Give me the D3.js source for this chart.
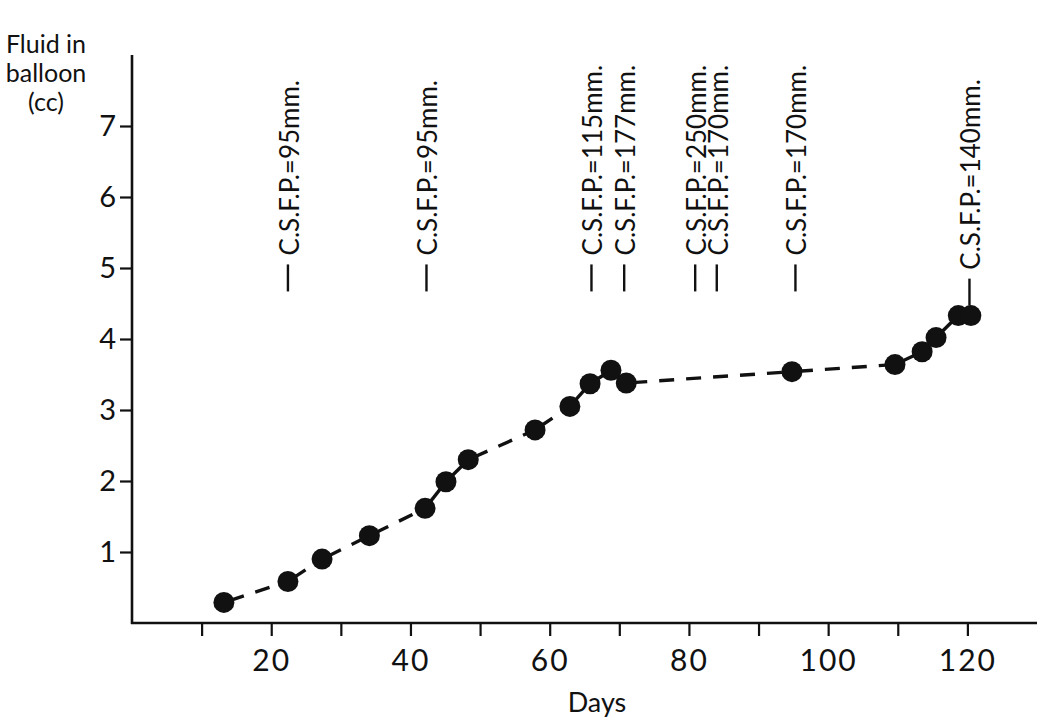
<!DOCTYPE html>
<html>
<head>
<meta charset="utf-8">
<script src="https://cdn.jsdelivr.net/npm/d3@7"></script>
<style>
  html, body { margin: 0; padding: 0; background: #fff; }
  svg { display: block; }
  text { font-family: Lato, "Open Sans", sans-serif; fill: #111; }
</style>
</head>
<body>
<svg id="chart" width="1050" height="717"></svg>
<script>
// ---- data ----
const days  = [13.2, 22.4, 27.3, 34.1, 42.1, 45.1, 48.3, 57.9, 62.9, 65.8, 68.8, 71.0, 94.8, 109.6, 113.5, 115.5, 118.7, 120.5];
const fluid = [0.29, 0.585, 0.90, 1.23, 1.615, 1.99, 2.30, 2.72, 3.05, 3.37, 3.56, 3.38, 3.54, 3.64, 3.82, 4.02, 4.33, 4.33];

const annotDays   = [22.4, 42.3, 66.0, 70.7, 80.9, 84.0, 95.3, 120.3];
const annotLabels = ["C.S.F.P.=95mm.", "C.S.F.P.=95mm.", "C.S.F.P.=115mm.", "C.S.F.P.=177mm.",
                     "C.S.F.P.=250mm.", "C.S.F.P.=170mm.", "C.S.F.P.=170mm.", "C.S.F.P.=140mm."];
const annotBase   = [4.67, 4.67, 4.67, 4.67, 4.67, 4.67, 4.67, 4.47]; // bar foot, in cc units

const xTicks      = [10, 20, 30, 40, 50, 60, 70, 80, 90, 100, 110, 120];
const xTickLabels = [20, 40, 60, 80, 100, 120];
const yTicks      = [1, 2, 3, 4, 5, 6, 7];
const yTitle      = ["Fluid in", "balloon", "(cc)"];
const xTitle      = "Days";

// ---- layout ----
const svg = d3.select("#chart");
const x = d3.scaleLinear().domain([0, 130]).range([132, 1037]);
const y = d3.scaleLinear().domain([0, 8]).range([623, 55]);
const ink = "#111";

// axes lines
svg.append("line").attr("x1", x(0)).attr("x2", x(0)).attr("y1", y(8)).attr("y2", y(0) + 1)
  .attr("stroke", ink).attr("stroke-width", 2.6);
svg.append("line").attr("x1", x(0) - 1).attr("x2", x(130)).attr("y1", y(0)).attr("y2", y(0))
  .attr("stroke", ink).attr("stroke-width", 2.6);

// y ticks
const yAxis = d3.axisLeft(y).tickValues(yTicks).tickSize(12).tickPadding(4).tickFormat(d3.format("d"));
const gy = svg.append("g").attr("transform", `translate(${x(0)},0)`).call(yAxis);
gy.select(".domain").remove();
gy.selectAll(".tick line").attr("stroke", ink).attr("stroke-width", 2.2);
gy.selectAll(".tick text").attr("font-size", 29).attr("fill", ink).attr("dy", "0.34em")
  .style("font-family", "Lato, sans-serif");

// x ticks
const xAxis = d3.axisBottom(x).tickValues(xTicks).tickSize(13).tickPadding(6)
  .tickFormat(d => xTickLabels.includes(d) ? d : "");
const gx = svg.append("g").attr("transform", `translate(0,${y(0)})`).call(xAxis);
gx.select(".domain").remove();
gx.selectAll(".tick line").attr("stroke", ink).attr("stroke-width", 2.2);
gx.selectAll(".tick text").attr("font-size", 30).attr("fill", ink).attr("dy", "0.95em")
  .attr("letter-spacing", 2).style("font-family", "Lato, sans-serif");

// axis titles
svg.append("text").attr("x", 597).attr("y", 712).attr("text-anchor", "middle")
  .attr("font-size", 27).text(xTitle);
const tt = svg.append("text").attr("text-anchor", "middle").attr("font-size", 25);
yTitle.forEach((t, i) => {
  tt.append("tspan").attr("x", 46).attr("y", 53 + i * 29).text(t);
});

// connecting segments
const pts = days.map((d, i) => [x(d), y(fluid[i])]);
for (let i = 0; i < pts.length - 1; i++) {
  const [x1, y1] = pts[i], [x2, y2] = pts[i + 1];
  const len = Math.hypot(x2 - x1, y2 - y1);
  const ln = svg.append("line").attr("x1", x1).attr("y1", y1).attr("x2", x2).attr("y2", y2)
    .attr("stroke", ink).attr("stroke-width", 3.4);
  if (len >= 38) ln.attr("stroke-dasharray", "15,12").attr("stroke-dashoffset", -6);
}

// markers
svg.append("g").selectAll("circle").data(days).join("circle")
  .attr("cx", d => x(d)).attr("cy", (d, i) => y(fluid[i])).attr("r", 10.5).attr("fill", ink);

// annotations
const ag = svg.append("g");
annotDays.forEach((d, i) => {
  const bx = x(d), foot = y(annotBase[i]);
  ag.append("line").attr("x1", bx).attr("x2", bx).attr("y1", foot).attr("y2", foot - 27)
    .attr("stroke", ink).attr("stroke-width", 2.4);
  ag.append("text")
    .attr("transform", `translate(${bx + 1},${foot - 36}) rotate(-90)`)
    .attr("text-anchor", "start").attr("dominant-baseline", "central")
    .attr("font-size", 26).text(annotLabels[i]);
});
</script>
</body>
</html>
